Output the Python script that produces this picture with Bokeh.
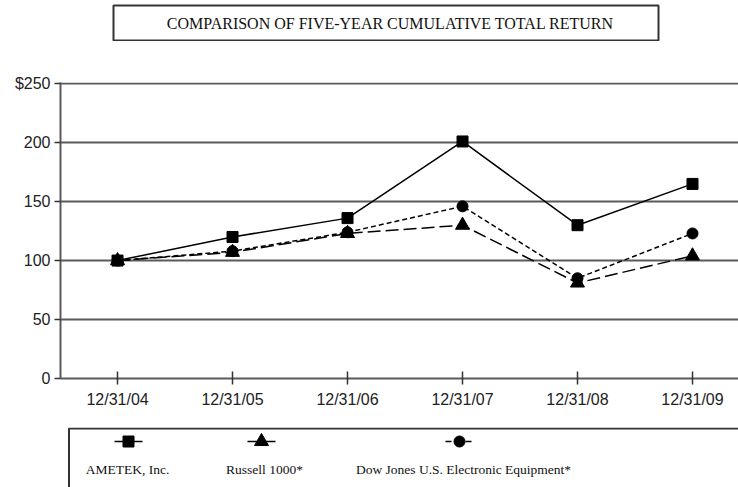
from bokeh.plotting import figure
from bokeh.layouts import column
from bokeh.models import Range1d, FixedTicker
from bokeh.core.properties import value
from bokeh.embed import file_html
from bokeh.resources import INLINE

# ---- data ----
dates = ["12/31/04", "12/31/05", "12/31/06", "12/31/07", "12/31/08", "12/31/09"]
ametek = [100, 120, 136, 201, 130, 165]
russell = [100, 107, 123, 130, 81, 104]
dowjones = [100, 108, 124, 146, 85, 123]
y_ticks = [0, 50, 100, 150, 200, 250]
y_tick_labels = ["0", "50", "100", "150", "200", "$250"]
title_text = "COMPARISON OF FIVE-YEAR CUMULATIVE TOTAL RETURN"
series_names = ["AMETEK, Inc.", "Russell 1000*", "Dow Jones U.S. Electronic Equipment*"]

SERIF = value("Liberation Serif")
GRID = "#5a5a5a"
BORDER = "#333333"
W = 738

# ---- title box ----
t = figure(width=W, height=41, output_backend="svg", toolbar_location=None,
           x_axis_location=None, y_axis_location=None,
           x_range=Range1d(0, 1), y_range=Range1d(0, 1),
           min_border_left=113, min_border_right=80, min_border_top=5, min_border_bottom=1)
t.frame_align = False
t.xgrid.visible = False
t.ygrid.visible = False
t.outline_line_color = BORDER
t.outline_line_width = 2
t.text(x=[0.508], y=[0.48], text=[title_text], text_font=SERIF, text_font_size="16px",
       text_align="center", text_baseline="middle", text_color="#111111")

# ---- main chart ----
xs = list(range(len(dates)))
p = figure(width=W, height=386, output_backend="svg", toolbar_location=None,
           x_range=Range1d(-0.496, 5.4), y_range=Range1d(0, 251),
           min_border_left=60, min_border_right=0, min_border_top=41, min_border_bottom=49)
p.frame_align = False
p.outline_line_color = None
p.xgrid.visible = False
p.ygrid.grid_line_color = GRID
p.ygrid.grid_line_width = 2
p.ygrid.ticker = FixedTicker(ticks=y_ticks)

p.yaxis.ticker = FixedTicker(ticks=y_ticks)
p.yaxis.major_label_overrides = {v: s for v, s in zip(y_ticks, y_tick_labels)}
p.xaxis.ticker = FixedTicker(ticks=xs)
p.xaxis.major_label_overrides = {i: d for i, d in enumerate(dates)}
for ax in (p.xaxis, p.yaxis):
    ax.axis_line_color = GRID
    ax.axis_line_width = 2
    ax.major_tick_line_color = BORDER
    ax.major_tick_line_width = 1.5
    ax.minor_tick_line_color = None
    ax.major_label_text_font = "Liberation Sans"
    ax.major_label_text_font_size = "16px"
    ax.major_label_text_color = "#222222"
p.xaxis.major_tick_in = 7
p.xaxis.major_tick_out = 6
p.xaxis.major_label_standoff = 6
p.yaxis.major_tick_in = 0
p.yaxis.major_tick_out = 6
p.yaxis.major_label_standoff = 4

p.line(xs, russell, line_color="black", line_width=1.5, line_dash="13 5")
p.line(xs, dowjones, line_color="black", line_width=1.5, line_dash="5 3")
p.line(xs, ametek, line_color="black", line_width=1.5)
p.scatter(xs, russell, marker="triangle", size=14, color="black")
p.scatter(xs, dowjones, marker="circle", size=11, color="black")
p.scatter(xs, ametek, marker="square", size=11, color="black")

# ---- legend box (open at right/bottom, like the cropped original) ----
lg = figure(width=W, height=60, output_backend="svg", toolbar_location=None,
            x_axis_location=None, y_axis_location=None,
            x_range=Range1d(66, 738), y_range=Range1d(487, 427),
            min_border_left=66, min_border_right=0, min_border_top=0, min_border_bottom=0)
lg.frame_align = False
lg.xgrid.visible = False
lg.ygrid.visible = False
lg.outline_line_color = None
lg.line([68.5, 68.5, 738], [487, 428, 428], line_color=BORDER, line_width=2)

mark_x = [128, 261, 459]
label_x = [127, 264, 463]
mark_y = 441
label_y = 469
markers = ["square", "triangle", "circle"]
sizes = [11, 14, 11]
dashes = ["solid", "solid", "6 4"]
for mx, lx, name, mk, sz, dsh in zip(mark_x, label_x, series_names, markers, sizes, dashes):
    lg.line([mx - 14, mx + 14], [mark_y, mark_y], line_color="black", line_width=1.5, line_dash=dsh)
    lg.scatter([mx], [mark_y], marker=mk, size=sz, color="black")
    lg.text(x=[lx], y=[label_y], text=[name], text_font=SERIF, text_font_size="13.5px",
            text_align="center", text_baseline="middle", text_color="#111111")

layout = column(t, p, lg, spacing=0)
open("out.html", "w").write(file_html(layout, INLINE))
